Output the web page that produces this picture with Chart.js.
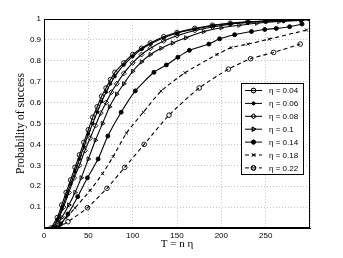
<!DOCTYPE html>
<html>
<head>
<meta charset="utf-8">
<script src="https://cdn.jsdelivr.net/npm/chart.js@4/dist/chart.umd.min.js"></script>
<style>
  html, body { margin: 0; padding: 0; background: #fff; }
  #wrap { position: relative; width: 343px; height: 258px; }
</style>
</head>
<body>
<div id="wrap"><canvas id="probChart" width="343" height="258"></canvas></div>
<script>
// ============================================================
// PROBABILITY OF SUCCESS vs T = n η
// ============================================================

// Series labels
const etaLabels = ['η = 0.04', 'η = 0.06', 'η = 0.08', 'η = 0.1', 'η = 0.14', 'η = 0.18', 'η = 0.22'];

// Series values (T, probability)
const t004 = [8, 15, 20, 25, 30, 35, 40, 45, 50, 55, 60, 65, 70, 75, 80, 90, 100, 110, 120, 135, 150, 170, 190, 210, 230, 250, 270, 290, 300];
const p004 = [0, 0.05, 0.11, 0.17, 0.23, 0.29, 0.35, 0.41, 0.47, 0.53, 0.58, 0.63, 0.67, 0.71, 0.745, 0.79, 0.83, 0.86, 0.885, 0.915, 0.935, 0.955, 0.97, 0.98, 0.987, 0.99, 0.994, 0.997, 1.0];

const t006 = [10, 15, 20, 25, 30, 35, 40, 45, 50, 55, 60, 65, 70, 75, 80, 90, 100, 110, 120, 135, 150, 170, 190, 210, 230, 250, 270, 290, 300];
const p006 = [0, 0.04, 0.09, 0.15, 0.21, 0.27, 0.33, 0.39, 0.45, 0.5, 0.555, 0.605, 0.65, 0.69, 0.725, 0.78, 0.82, 0.855, 0.88, 0.91, 0.932, 0.952, 0.968, 0.978, 0.985, 0.99, 0.993, 0.996, 0.998];

const t008 = [11, 16, 22, 28, 34, 40, 46, 52, 58, 64, 70, 76, 82, 90, 100, 110, 120, 135, 150, 170, 190, 210, 230, 250, 270, 290, 300];
const p008 = [0, 0.04, 0.1, 0.17, 0.24, 0.3, 0.37, 0.43, 0.49, 0.55, 0.6, 0.65, 0.69, 0.74, 0.79, 0.83, 0.86, 0.895, 0.92, 0.945, 0.962, 0.975, 0.983, 0.988, 0.992, 0.995, 0.997];

const t010 = [12, 20, 28, 35, 42, 50, 58, 66, 74, 82, 90, 100, 110, 120, 132, 145, 160, 180, 200, 220, 240, 265, 290];
const p010 = [0, 0.05, 0.11, 0.17, 0.24, 0.33, 0.42, 0.5, 0.58, 0.64, 0.69, 0.75, 0.795, 0.83, 0.86, 0.885, 0.91, 0.94, 0.958, 0.97, 0.98, 0.988, 0.993];

const t014 = [14, 19, 27, 38, 49, 61, 72, 87, 103, 124, 138, 151, 164, 186, 198, 215, 234, 249, 262, 277, 291];
const p014 = [0, 0.02, 0.067, 0.15, 0.24, 0.33, 0.44, 0.554, 0.656, 0.745, 0.78, 0.817, 0.85, 0.88, 0.905, 0.925, 0.94, 0.95, 0.955, 0.963, 0.976];

const t018 = [14, 25, 35, 52, 66, 78, 93, 112, 132, 159, 195, 211, 230, 254, 296];
const p018 = [0, 0.048, 0.096, 0.18, 0.26, 0.342, 0.454, 0.554, 0.655, 0.743, 0.83, 0.863, 0.88, 0.904, 0.947];

const t022 = [15, 27, 49, 71, 91, 113, 141, 175, 208, 233, 259, 289];
const p022 = [0, 0.03, 0.097, 0.19, 0.29, 0.4, 0.54, 0.67, 0.76, 0.81, 0.84, 0.88];

// Axis tick values
const xTicks = [0, 50, 100, 150, 200, 250, 300];
const yTicks = [0, 0.1, 0.2, 0.3, 0.4, 0.5, 0.6, 0.7, 0.8, 0.9, 1];

function pairUp(xs, ys) {
  return xs.map((x, i) => ({ x: x, y: ys[i] }));
}

const seriesX = [t004, t006, t008, t010, t014, t018, t022];
const seriesY = [p004, p006, p008, p010, p014, p018, p022];

// marker style per series (matlab-ish)
const markerStyles = [
  { pointStyle: 'circle', radius: 2.3, fill: 'rgba(0,0,0,0)', dash: [] },
  { pointStyle: 'circle', radius: 1.4, fill: '#000', dash: [] },
  { pointStyle: 'rectRot', radius: 2.5, fill: 'rgba(0,0,0,0)', dash: [] },
  { pointStyle: 'triangle', radius: 2.5, fill: 'rgba(0,0,0,0)', dash: [], rotation: 90 },
  { pointStyle: 'circle', radius: 2, fill: '#000', dash: [] },
  { pointStyle: 'crossRot', radius: 2.2, fill: 'rgba(0,0,0,0)', dash: [4, 3] },
  { pointStyle: 'circle', radius: 2.3, fill: 'rgba(0,0,0,0)', dash: [4, 3] }
];

const datasets = seriesX.map((xs, i) => ({
  label: etaLabels[i],
  data: pairUp(xs, seriesY[i]),
  borderColor: '#000',
  borderWidth: 1.1,
  borderDash: markerStyles[i].dash,
  pointStyle: markerStyles[i].pointStyle,
  pointRadius: markerStyles[i].radius,
  pointRotation: markerStyles[i].rotation || 0,
  pointBackgroundColor: markerStyles[i].fill,
  pointBorderColor: '#000',
  pointBorderWidth: 0.9,
  fill: false,
  tension: 0.2
}));

/**
 * Box around the plot area + legend inside it
 */
const boxAndLegendPlugin = {
  id: 'boxAndLegend',
  afterDraw: (chart) => {
    const { ctx, chartArea } = chart;
    ctx.save();
    // full frame
    ctx.strokeStyle = '#000';
    ctx.lineWidth = 1;
    ctx.strokeRect(chartArea.left + 0.5, chartArea.top + 0.5,
      chartArea.right - chartArea.left - 1, chartArea.bottom - chartArea.top - 1);

    // legend box
    const lx = 241, ly = 83, lw = 62, lh = 91;
    ctx.fillStyle = '#fff';
    ctx.fillRect(lx, ly, lw, lh);
    ctx.strokeRect(lx + 0.5, ly + 0.5, lw, lh);

    ctx.font = '8px "Liberation Sans", Arial, sans-serif';
    ctx.textBaseline = 'middle';
    ctx.textAlign = 'left';
    chart.data.datasets.forEach((ds, i) => {
      const y = ly + 7.5 + i * 12.9;
      ctx.beginPath();
      ctx.setLineDash(ds.borderDash || []);
      ctx.strokeStyle = '#000';
      ctx.lineWidth = 1;
      ctx.moveTo(245, y);
      ctx.lineTo(262, y);
      ctx.stroke();
      ctx.setLineDash([]);
      if (Chart.helpers && Chart.helpers.drawPoint) {
        ctx.fillStyle = ds.pointBackgroundColor;
        ctx.lineWidth = ds.pointBorderWidth;
        Chart.helpers.drawPoint(ctx, {
          pointStyle: ds.pointStyle,
          rotation: ds.pointRotation,
          radius: ds.pointRadius,
          borderWidth: ds.pointBorderWidth
        }, 253.5, y);
        ctx.fill();
        ctx.stroke();
      }
      ctx.fillStyle = '#000';
      ctx.fillText(ds.label, 269, y + 0.5);
    });
    ctx.restore();
  }
};

new Chart(document.getElementById('probChart'), {
  type: 'line',
  data: { datasets: datasets },
  plugins: [boxAndLegendPlugin],
  options: {
    responsive: false,
    animation: false,
    layout: { padding: { left: 14, top: 19, right: 33, bottom: 7 } },
    plugins: {
      legend: { display: false },
      tooltip: { enabled: false }
    },
    scales: {
      x: {
        type: 'linear',
        min: 0,
        max: 300,
        afterBuildTicks: (axis) => { axis.ticks = xTicks.map(v => ({ value: v })); },
        afterFit: (axis) => { axis.height = 23; },
        ticks: {
          color: '#000',
          padding: 3,
          font: { family: '"Liberation Sans", Arial, sans-serif', size: 8 },
          callback: (v) => (v === 300 ? '' : v)
        },
        grid: {
          color: '#c4c4c4',
          drawTicks: false
        },
        border: { display: true, color: '#000', dash: [1, 2] },
        title: {
          display: true,
          text: 'T = n η',
          color: '#000',
          padding: { top: 0, bottom: 0 },
          font: { family: '"Liberation Serif", "Times New Roman", serif', size: 11 }
        }
      },
      y: {
        type: 'linear',
        min: 0,
        max: 1,
        afterBuildTicks: (axis) => { axis.ticks = yTicks.map(v => ({ value: v })); },
        afterFit: (axis) => { axis.width = 30; },
        ticks: {
          color: '#000',
          padding: 3,
          font: { family: '"Liberation Sans", Arial, sans-serif', size: 8 },
          callback: (v) => (v === 0 ? '' : v)
        },
        grid: {
          color: '#c4c4c4',
          drawTicks: false
        },
        border: { display: true, color: '#000', dash: [1, 2] },
        title: {
          display: true,
          text: 'Probability of success',
          color: '#000',
          padding: { top: 0, bottom: 0 },
          font: { family: '"Liberation Serif", "Times New Roman", serif', size: 11.5 }
        }
      }
    }
  }
});
</script>
</body>
</html>
